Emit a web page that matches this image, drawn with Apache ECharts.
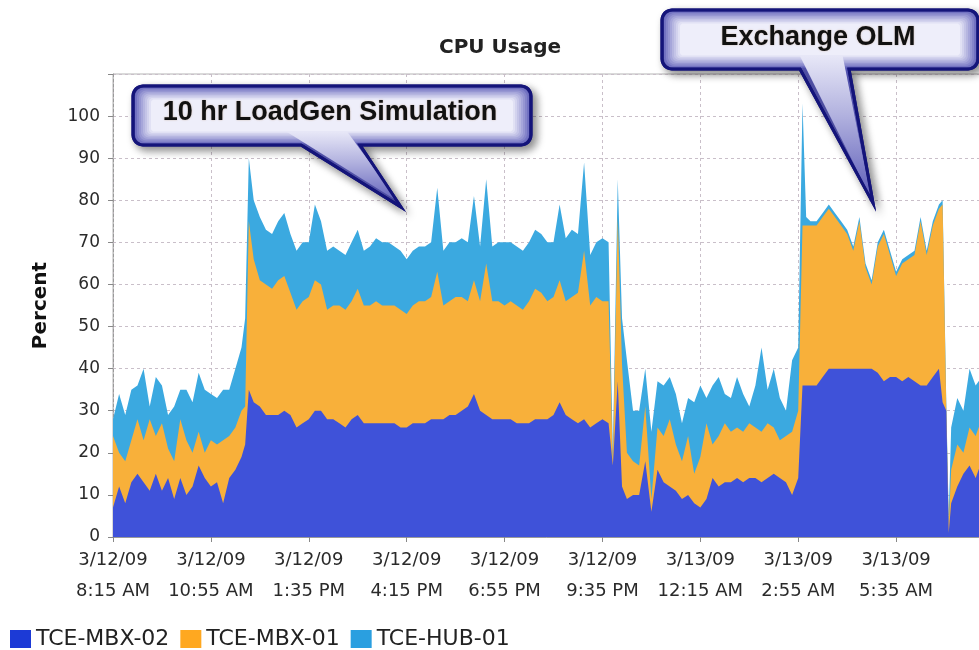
<!DOCTYPE html>
<html>
<head>
<meta charset="utf-8">
<title>CPU Usage</title>
<script src="https://cdn.jsdelivr.net/npm/echarts@6/dist/echarts.min.js"></script>
<style>
  html, body { margin: 0; padding: 0; background: #fff; }
  #chart { width: 979px; height: 650px; }
</style>
</head>
<body>
<div id="chart"></div>
<script>
// minutes after 3/12/09 8:15 AM
var minutes = [0, 10, 20, 30, 40, 50, 60, 70, 80, 90, 100, 110, 120, 130, 140, 150, 160, 170, 180, 190, 200, 210,
  216, 222,
  230, 240, 250, 260, 270, 280, 290, 300, 310, 320, 330, 340, 350, 360, 370, 380, 390, 400, 410, 420,
  430, 440, 450, 460, 470, 480, 490, 500, 510, 520, 530, 540, 550, 560, 570, 580, 590, 600, 610, 620,
  630, 640, 650, 660, 670, 680, 690, 700, 710, 720, 730, 740, 750, 760, 770, 780, 790, 800, 810,
  817, 825, 832, 840,
  850, 860, 870, 880, 890, 900, 910, 920, 930, 940, 950, 960, 970, 980, 990, 1000, 1010, 1020, 1030,
  1040, 1050, 1060, 1070, 1080, 1090, 1100, 1110, 1120,
  1127, 1133,
  1140, 1150, 1160, 1170, 1180, 1190, 1200, 1210, 1220, 1230, 1240, 1250, 1260, 1270, 1280, 1290,
  1300, 1310, 1320, 1330, 1340, 1350,
  1356, 1362, 1366,
  1370, 1380, 1390, 1400, 1410, 1420, 1430, 1440];

var mbx02 = [7, 12, 8, 13, 15, 13, 11, 15, 11, 14, 9, 14, 10, 12, 17, 14, 12, 13, 8, 14, 16, 19,
  22, 35,
  32, 31, 29, 29, 29, 30, 29, 26, 27, 28, 30, 30, 28, 28, 27, 26, 28, 29, 27, 27,
  27, 27, 27, 27, 26, 26, 27, 27, 27, 28, 28, 28, 29, 29, 30, 31, 34, 30, 29, 28,
  28, 28, 28, 27, 27, 27, 28, 28, 28, 29, 32, 29, 28, 27, 28, 26, 27, 28, 27,
  17, 37, 12, 9,
  10, 10, 18, 6, 16, 13, 12, 11, 9, 10, 8, 7, 9, 14, 12, 13, 13, 14, 13,
  14, 14, 13, 14, 15, 14, 13, 10, 14,
  36, 36,
  36, 36, 38, 40, 40, 40, 40, 40, 40, 40, 40, 39, 37, 38, 38, 37,
  38, 37, 36, 36, 38, 40,
  32, 30, 1,
  8, 12, 15, 17, 14, 18, 20, 20];

var mbx01 = [17, 8, 10, 10, 13, 10, 17, 9, 16, 7, 9, 14, 13, 8, 8, 6, 11, 9, 15, 10, 10, 11,
  9, 40,
  34, 30, 31, 30, 32, 32, 29, 28, 29, 29, 31, 30, 26, 27, 28, 28, 28, 30, 28, 28,
  29, 28, 28, 28, 28, 27, 28, 29, 29, 29, 35, 27, 27, 28, 27, 25, 27, 26, 36, 28,
  28, 27, 28, 28, 27, 29, 31, 30, 28, 28, 29, 27, 29, 31, 40, 29, 30, 28, 29,
  1, 39, 29, 11,
  8, 7, 13, 3, 10, 11, 16, 11, 9, 14, 7, 12, 18, 8, 12, 14, 12, 12, 12,
  13, 12, 12, 13, 11, 9, 11, 15, 16,
  38, 38,
  38, 38, 38, 38, 36, 34, 32, 28, 35, 24, 20, 30, 35, 29, 24, 28,
  28, 30, 39, 31, 36, 38,
  47, 1, 2,
  8, 10, 5, 9, 10, 10, 10, 11];

var hub01 = [4, 14, 11, 12, 8, 17, 3, 14, 9, 8, 13, 7, 12, 12, 14, 15, 11, 11, 12, 11, 14, 15,
  21, 15,
  14, 15, 13, 13, 14, 15, 14, 14, 14, 13, 18, 15, 14, 14, 13, 13, 14, 14, 13, 14,
  15, 15, 15, 14, 14, 13, 13, 13, 13, 13, 20, 13, 14, 13, 14, 14, 20, 13, 20, 13,
  14, 15, 14, 14, 14, 14, 14, 14, 14, 13, 18, 15, 16, 14, 21, 12, 13, 15, 14,
  2, 9, 11, 22,
  12, 13, 9, 16, 11, 12, 10, 12, 9, 9, 17, 17, 6, 14, 14, 7, 8, 12, 9,
  4, 10, 20, 8, 14, 10, 6, 17, 15,
  29, 2,
  1, 1, 1, 1, 1, 1, 1, 1, 1, 1, 1, 1, 1, 1, 1, 1,
  1, 1, 1, 1, 1, 1,
  1, 1, 2,
  10, 11, 10, 14, 12, 10, 8, 8];

var tickDates = ['3/12/09', '3/12/09', '3/12/09', '3/12/09', '3/12/09', '3/12/09', '3/13/09', '3/13/09', '3/13/09', '3/13/09'];
var tickTimes = ['8:15 AM', '10:55 AM', '1:35 PM', '4:15 PM', '6:55 PM', '9:35 PM', '12:15 AM', '2:55 AM', '5:35 AM', '8:15 AM'];

var seriesNames = ['TCE-MBX-02', 'TCE-MBX-01', 'TCE-HUB-01'];
var seriesColors = ['#3f52d9', '#f8b03a', '#3ba9e0'];
var legendColors = ['#1c3ad6', '#ffa820', '#2a9fe0'];

var labelFont = 'DejaVu Sans';

// stacked tops, bottom series first; each area is filled down to 0
var tops = [];
[mbx02, mbx01, hub01].forEach(function (vals, s) {
  tops.push(vals.map(function (v, i) { return (s ? tops[s - 1][i] : 0) + v; }));
});

function pairs(vals) {
  return minutes.map(function (m, i) { return [m, vals[i]]; });
}

// speech bubble outline: rounded box with a pointer on the bottom edge
function bubblePoints(x0, y0, x1, y1, r, bx0, bx1, tx, ty) {
  var pts = [];
  function arc(cx, cy, a0) {
    for (var i = 0; i <= 6; i++) {
      var a = (a0 + i * 15) * Math.PI / 180;
      pts.push([cx + r * Math.cos(a), cy + r * Math.sin(a)]);
    }
  }
  arc(x0 + r, y0 + r, 180);
  arc(x1 - r, y0 + r, 270);
  arc(x1 - r, y1 - r, 0);
  if (bx0 != null) pts.push([bx1, y1], [tx, ty], [bx0, y1]);
  arc(x0 + r, y1 - r, 90);
  return pts;
}

function mix(a, b, t) {
  var c = [0, 1, 2].map(function (k) { return Math.round(a[k] + (b[k] - a[k]) * t); });
  return 'rgb(' + c.join(',') + ')';
}

function bubble(b) {
  var pts = bubblePoints(b.x0, b.y0, b.x1, b.y1, 10, b.bx0, b.bx1, b.tx, b.ty);
  var edge = [88, 88, 182], light = [238, 238, 250];
  var els = [{
    type: 'polygon', z: 100,
    shape: { points: pts },
    style: {
      fill: mix(edge, light, 0), stroke: '#14147a', lineWidth: 3,
      shadowBlur: 8, shadowOffsetX: 4, shadowOffsetY: 4, shadowColor: 'rgba(0,0,0,0.45)'
    }
  }];
  // soft inner glow, built from inset layers
  var steps = 9;
  for (var i = 1; i <= steps; i++) {
    var d = 2 * i;
    var t = i / steps;
    els.push({
      type: 'polygon', z: 100 + i,
      shape: { points: bubblePoints(b.x0 + d, b.y0 + d * 0.75, b.x1 - d, b.y1 - d * 0.75, Math.max(10 - d * 0.4, 3)) },
      style: { fill: mix(edge, light, Math.pow(t, 0.8)) }
    });
  }
  // light area running down into the pointer, kept inside its slanted edges
  var h = 13, sl = (b.tx - b.bx0) / (b.ty - b.y1), sr = (b.tx - b.bx1) / (b.ty - b.y1);
  els.push({
    type: 'polygon', z: 111,
    shape: { points: [[b.bx0 - h * sl + 7, b.y1 - h], [b.bx1 - h * sr - 4, b.y1 - h], [b.tx - 2, b.ty - 5]] },
    style: {
      fill: {
        type: 'linear', x: 0, y: b.y1 - h, x2: 0, y2: b.ty, global: true,
        colorStops: [{ offset: 0, color: mix(edge, light, 0.95) }, { offset: 0.4, color: mix(edge, light, 0.6) }, { offset: 1, color: mix(edge, light, 0) }]
      }
    }
  });
  els.push({
    type: 'polygon', z: 112,
    shape: { points: pts },
    style: { fill: null, stroke: '#14147a', lineWidth: 3 }
  });
  els.push({
    type: 'text', z: 113, x: b.cx, y: b.cy,
    style: {
      text: b.text, fill: '#111', align: 'center', verticalAlign: 'middle',
      fontFamily: 'Liberation Sans', fontWeight: 'bold', fontSize: 27,
      textShadowColor: 'rgba(140,80,20,0.35)', textShadowBlur: 2
    }
  });
  return els;
}

var chart = echarts.init(document.getElementById('chart'));

var option = {
  animation: false,
  title: {
    text: 'CPU Usage',
    left: 439,
    top: 38,
    padding: 0,
    textStyle: { fontFamily: labelFont, fontWeight: 'bold', fontSize: 20, color: '#222' }
  },
  legend: {
    left: 10,
    top: 628,
    padding: 0,
    itemWidth: 21,
    itemHeight: 18,
    itemGap: 11,
    icon: 'rect',
    data: seriesNames.map(function (n, i) {
      return { name: n, itemStyle: { color: legendColors[i] } };
    }),
    textStyle: { fontFamily: labelFont, fontSize: 22, color: '#222' }
  },
  // plot runs past the right edge of the picture (8:15 AM 3/13 sits off-canvas)
  grid: {
    left: 113,
    top: 74,
    width: 881,
    height: 463,
    outerBoundsMode: 'none',
    containLabel: false,
    show: true,
    borderColor: '#b4b4b4',
    borderWidth: 1
  },
  xAxis: {
    type: 'value',
    min: 0,
    max: 1440,
    interval: 160,
    axisLine: { lineStyle: { color: '#9a9a9a' } },
    axisTick: { length: 5, lineStyle: { color: '#888' } },
    splitLine: { show: true, lineStyle: { color: '#c9bfc9', type: [3, 3] } },
    axisLabel: {
      margin: 8,
      showMaxLabel: false,
      color: '#2a2a2a',
      formatter: function (v) {
        var i = Math.round(v / 160);
        return '{d|' + tickDates[i] + '}\n{t|' + tickTimes[i] + '}';
      },
      rich: {
        d: { fontFamily: labelFont, fontSize: 18, lineHeight: 31, color: '#2a2a2a' },
        t: { fontFamily: labelFont, fontSize: 18, lineHeight: 31, color: '#2a2a2a' }
      }
    }
  },
  yAxis: {
    type: 'value',
    min: 0,
    max: 110,
    interval: 10,
    name: 'Percent',
    nameLocation: 'middle',
    nameRotate: 90,
    nameGap: 62,
    nameTextStyle: { fontFamily: labelFont, fontWeight: 'bold', fontSize: 20, color: '#111' },
    axisLine: { show: true, lineStyle: { color: '#9a9a9a', type: [3, 2] } },
    axisTick: { show: true, length: 5, lineStyle: { color: '#888' } },
    splitLine: { lineStyle: { color: '#c9bfc9', type: [3, 3] } },
    axisLabel: {
      margin: 13,
      color: '#2a2a2a',
      fontFamily: labelFont,
      fontSize: 17,
      formatter: function (v) { return v > 100 ? '' : String(v); }
    }
  },
  // drawn top-most total first so the lower layers sit in front
  series: [2, 1, 0].map(function (s) {
    return {
      name: seriesNames[s],
      type: 'line',
      data: pairs(tops[s]),
      symbol: 'none',
      showSymbol: false,
      itemStyle: { color: seriesColors[s] },
      lineStyle: { width: 0, color: seriesColors[s] },
      areaStyle: { color: seriesColors[s], opacity: 1 }
    };
  }),
  graphic: bubble({
    x0: 133, y0: 86, x1: 531, y1: 145, bx0: 301, bx1: 360, tx: 401, ty: 207,
    cx: 330, cy: 113, text: '10 hr LoadGen Simulation'
  }).concat(bubble({
    x0: 662, y0: 10, x1: 978, y1: 69, bx0: 800, bx1: 849, tx: 873, ty: 203,
    cx: 818, cy: 38, text: 'Exchange OLM'
  }))
};

chart.setOption(option);
</script>
</body>
</html>
